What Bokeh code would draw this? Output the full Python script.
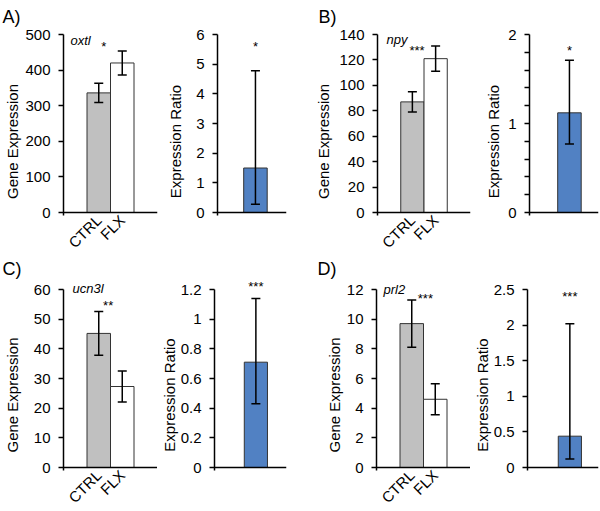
import math
from bokeh.plotting import figure
from bokeh.models import Range1d, FixedTicker, Label, Whisker, TeeHead, ColumnDataSource, Title
from bokeh.layouts import row, column
from bokeh.embed import file_html
from bokeh.resources import INLINE

# ---------------- data ----------------
panel_letters = ["A)", "B)", "C)", "D)"]
gene_names = ["oxtl", "npy", "ucn3l", "prl2"]
groups = ["CTRL", "FLX"]

oxtl_mean = [336, 420]
oxtl_err = [27, 34]
npy_mean = [87, 121]
npy_err = [8, 10]
ucn3l_mean = [45.2, 27.3]
ucn3l_err = [7.4, 5.2]
prl2_mean = [9.7, 4.6]
prl2_err = [1.6, 1.05]

ratio_mean = [1.50, 1.12, 0.71, 0.44]
ratio_lower = [0.28, 0.77, 0.43, 0.12]
ratio_upper = [4.78, 1.71, 1.14, 2.02]

expr_signif = ["*", "***", "**", "***"]
ratio_signif = ["*", "*", "***", "***"]

expr_ticks_A = [0, 100, 200, 300, 400, 500]
expr_ticks_B = [0, 20, 40, 60, 80, 100, 120, 140]
expr_ticks_C = [0, 10, 20, 30, 40, 50, 60]
expr_ticks_D = [0, 2, 4, 6, 8, 10, 12]

ratio_ticks_A = [0, 1, 2, 3, 4, 5, 6]
ratio_labels_A = ["0", "1", "2", "3", "4", "5", "6"]
ratio_ticks_B = [0, 1, 2]
ratio_labels_B = ["0", "1", "2"]
ratio_minor_B = [0.2, 0.4, 0.6, 0.8, 1.2, 1.4, 1.6, 1.8]
ratio_ticks_C = [0, 0.2, 0.4, 0.6, 0.8, 1.0, 1.2]
ratio_labels_C = ["0", "0.2", "0.4", "0.6", "0.8", "1", "1.2"]
ratio_ticks_D = [0, 0.5, 1.0, 1.5, 2.0, 2.5]
ratio_labels_D = ["0", "0.5", "1", "1.5", "2", "2.5"]

expr_means = [oxtl_mean, npy_mean, ucn3l_mean, prl2_mean]
expr_errs = [oxtl_err, npy_err, ucn3l_err, prl2_err]
expr_ticks = [expr_ticks_A, expr_ticks_B, expr_ticks_C, expr_ticks_D]
ratio_ticks = [ratio_ticks_A, ratio_ticks_B, ratio_ticks_C, ratio_ticks_D]
ratio_labels = [ratio_labels_A, ratio_labels_B, ratio_labels_C, ratio_labels_D]
ratio_minors = [[], ratio_minor_B, [], []]

# ---------------- styles / layout ----------------
FONT = "Liberation Sans"
GREY = "#c0c0c0"
BLUE = "#5181c3"
EDGE = "#333333"
FH = 178      # pixel height of the value axis (0 .. top tick)
UPP = 94 / 4  # pixels per x unit

# row settings: top border, letter standoff, px above top tick, px below zero
row_cfg = [dict(T=28, st=4, E=6, Eb=42), dict(T=25, st=2, E=10, Eb=43)]

# per panel: gene fig (L, frame, R), ratio fig (L, frame, R), label standoffs, annotations
cfg = [
    dict(gL=63, gF=94, gR=3, rL=57, rF=69, rR=26, gs=1, rs=9, rgap=19.3,
         name_dx=7, name_dy=-6, star_x=1.71, star_fy=0.952, rstar_fy=0.952, let_dx=-61),
    dict(gL=64, gF=94, gR=8, rL=51, rF=69, rR=2, gs=4, rs=3, rgap=17.3,
         name_dx=9, name_dy=-5, star_x=1.70, star_fy=0.925, rstar_fy=0.925, let_dx=-59),
    dict(gL=63, gF=94, gR=0, rL=56, rF=73, rR=26, gs=10, rs=0, rgap=19.3,
         name_dx=9, name_dy=1, star_x=1.90, star_fy=0.929, rstar_fy=1.033, let_dx=-61),
    dict(gL=64, gF=94, gR=0, rL=56, rF=72, rR=2, gs=1, rs=0, rgap=17.3,
         name_dx=7, name_dy=0, star_x=2.08, star_fy=0.967, rstar_fy=0.976, let_dx=-59),
]


def style_common(p, top, bottom_ext):
    p.outline_line_color = None
    p.grid.visible = False
    p.background_fill_color = "white"
    p.border_fill_color = "white"
    for ax in p.axis:
        ax.axis_line_color = "black"
        ax.axis_line_width = 1.5
        ax.major_tick_line_color = "black"
        ax.major_tick_line_width = 1.5
        ax.minor_tick_line_color = "black"
        ax.minor_tick_line_width = 1.5
        ax.major_label_text_font = FONT
        ax.major_label_text_font_size = "15px"
        ax.major_label_text_color = "black"
        ax.axis_label_text_font = FONT
        ax.axis_label_text_font_size = "15px"
        ax.axis_label_text_font_style = "normal"
        ax.axis_label_text_color = "black"
    yax = p.yaxis[0]
    yax.major_tick_out = 5
    yax.major_tick_in = 0
    yax.minor_tick_out = 5
    yax.minor_tick_in = 0
    yax.major_label_standoff = 8
    yax.bounds = (-bottom_ext, top)
    xax = p.xaxis[0]
    xax.fixed_location = 0
    xax.major_tick_line_color = None
    xax.minor_tick_line_color = None


def add_whisker(p, src):
    w = Whisker(source=src, base="x", upper="upper", lower="lower", dimension="height",
                line_color="black", line_width=1.5, level="overlay",
                upper_head=TeeHead(size=9, line_color="black", line_width=1.5),
                lower_head=TeeHead(size=9, line_color="black", line_width=1.5))
    p.add_layout(w)


def letter_title(text, offset, standoff):
    return Title(text=text, align="left", offset=offset, standoff=standoff,
                 text_font=FONT, text_font_size="18px", text_font_style="normal",
                 text_color="black")


figs = []
for i in range(4):
    c = cfg[i]
    rc = row_cfg[i // 2]
    H = rc["T"] + rc["E"] + FH + rc["Eb"]

    # ---------- gene expression figure ----------
    ymax = expr_ticks[i][-1]
    per_px = ymax / FH
    g = figure(width=c["gL"] + c["gF"] + c["gR"], height=H,
               x_range=Range1d(0, 4),
               y_range=Range1d(-rc["Eb"] * per_px, ymax + rc["E"] * per_px),
               output_backend="svg", toolbar_location=None,
               min_border_left=c["gL"], min_border_right=c["gR"],
               min_border_top=rc["T"], min_border_bottom=0,
               title=letter_title(panel_letters[i], c["let_dx"], rc["st"]))
    xs = [1.5, 2.5]
    g.vbar(x=xs, top=expr_means[i], width=1, bottom=0,
           fill_color=[GREY, "white"], line_color=EDGE, line_width=1)
    src = ColumnDataSource(dict(
        x=xs,
        upper=[m + e for m, e in zip(expr_means[i], expr_errs[i])],
        lower=[m - e for m, e in zip(expr_means[i], expr_errs[i])]))
    add_whisker(g, src)
    style_common(g, ymax, 3 * per_px)
    g.yaxis[0].ticker = FixedTicker(ticks=expr_ticks[i], minor_ticks=[])
    g.yaxis[0].axis_label = "Gene Expression"
    g.yaxis[0].axis_label_standoff = c["gs"]
    g.xaxis[0].ticker = FixedTicker(ticks=xs, minor_ticks=[])
    g.xaxis[0].major_label_overrides = {xs[0]: groups[0], xs[1]: groups[1]}
    g.xaxis[0].major_label_orientation = math.pi / 4
    g.xaxis[0].major_tick_out = 3
    g.xaxis[0].major_tick_in = 0
    g.xaxis[0].major_label_standoff = 2
    g.add_layout(Label(x=0, y=ymax, x_offset=c["name_dx"], y_offset=c["name_dy"],
                       text=gene_names[i], text_font=FONT, text_font_size="13px",
                       text_font_style="italic", text_color="black",
                       text_baseline="alphabetic", text_align="left"))
    g.add_layout(Label(x=c["star_x"], y=ymax * c["star_fy"], y_offset=-3,
                       text=expr_signif[i], text_font=FONT, text_font_size="13px",
                       text_color="black", text_baseline="middle", text_align="center"))

    # ---------- expression ratio figure ----------
    rmax = ratio_ticks[i][-1]
    rper_px = rmax / FH
    xend = 1.5 + c["rgap"] / UPP
    xstart = xend - c["rF"] / UPP
    r = figure(width=c["rL"] + c["rF"] + c["rR"], height=H,
               x_range=Range1d(xstart, xend),
               y_range=Range1d(-rc["Eb"] * rper_px, rmax + rc["E"] * rper_px),
               output_backend="svg", toolbar_location=None,
               min_border_left=c["rL"], min_border_right=c["rR"],
               min_border_top=rc["T"], min_border_bottom=0,
               title=letter_title(" ", 0, rc["st"]))
    r.vbar(x=[1], top=[ratio_mean[i]], width=1, bottom=0,
           fill_color=BLUE, line_color=EDGE, line_width=1)
    rsrc = ColumnDataSource(dict(x=[1], upper=[ratio_upper[i]], lower=[ratio_lower[i]]))
    add_whisker(r, rsrc)
    style_common(r, rmax, 3 * rper_px)
    r.yaxis[0].ticker = FixedTicker(ticks=ratio_ticks[i], minor_ticks=ratio_minors[i])
    r.yaxis[0].major_label_overrides = {t: s for t, s in zip(ratio_ticks[i], ratio_labels[i])}
    r.yaxis[0].axis_label = "Expression Ratio"
    r.yaxis[0].axis_label_standoff = c["rs"]
    r.xaxis[0].ticker = FixedTicker(ticks=[], minor_ticks=[])
    r.add_layout(Label(x=1, y=rmax * c["rstar_fy"], y_offset=-3,
                       text=ratio_signif[i], text_font=FONT, text_font_size="13px",
                       text_color="black", text_baseline="middle", text_align="center"))
    figs.append((g, r))

layout = column(
    row(figs[0][0], figs[0][1], figs[1][0], figs[1][1]),
    row(figs[2][0], figs[2][1], figs[3][0], figs[3][1]),
)

open("out.html", "w").write(file_html(layout, INLINE))
